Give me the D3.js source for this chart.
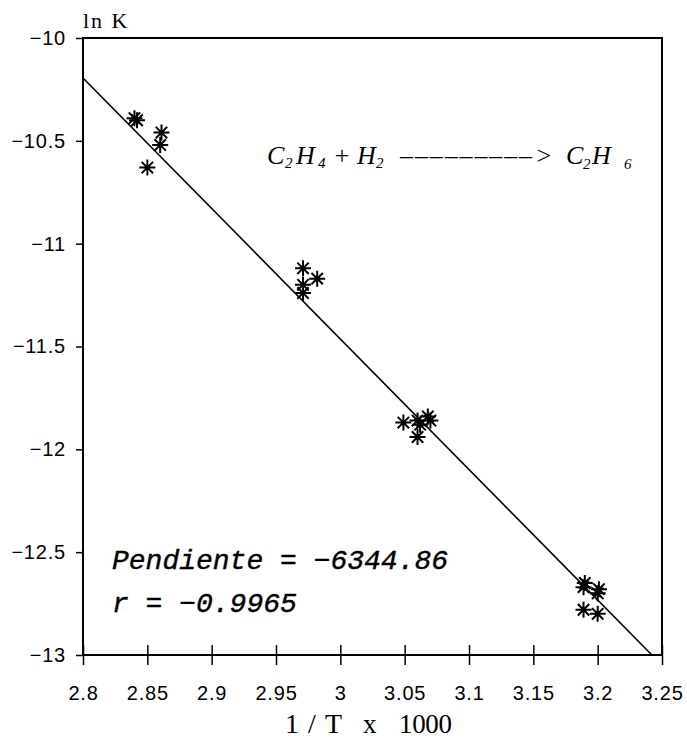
<!DOCTYPE html>
<html lang="es">
<head>
<meta charset="UTF-8">
<title>ln K vs 1/T</title>
<script src="https://d3js.org/d3.v7.min.js"></script>
<style>
  body { margin: 0; background: #fff; }
  svg { display: block; }
</style>
</head>
<body>
<script>
// data
const invT = [2.840, 2.842, 2.861, 2.860, 2.850,
              2.971, 2.982, 2.971, 2.971,
              3.049, 3.060, 3.062, 3.070, 3.068, 3.060,
              3.190, 3.189, 3.201, 3.200, 3.189, 3.200];
const lnK  = [-10.39, -10.40, -10.46, -10.52, -10.63,
              -11.12, -11.17, -11.20, -11.24,
              -11.87, -11.86, -11.88, -11.86, -11.84, -11.94,
              -12.65, -12.67, -12.68, -12.70, -12.78, -12.80];
const xTicks = [2.8, 2.85, 2.9, 2.95, 3, 3.05, 3.1, 3.15, 3.2, 3.25];
const yTicks = [-10, -10.5, -11, -11.5, -12, -12.5, -13];
const slope = -6344.86;     // per K, fitted line
const intercept = 7.571;    // ln K at 1/T = 0
const rValue = -0.9965;

const width = 687, height = 745;
const margin = {left: 83, right: 25, top: 38, bottom: 90};
const minus = s => String(s).replace("-", "\u2212");

const svg = d3.select("body").append("svg")
  .attr("width", width)
  .attr("height", height);

const x = d3.scaleLinear().domain([2.8, 3.25]).range([margin.left, width - margin.right]);
const y = d3.scaleLinear().domain([-10, -13]).range([margin.top, height - margin.bottom]);

// frame
svg.append("rect")
  .attr("x", x(2.8)).attr("y", y(-10))
  .attr("width", x(3.25) - x(2.8)).attr("height", y(-13) - y(-10))
  .attr("fill", "none").attr("stroke", "#000").attr("stroke-width", 2);

// x axis: ticks cross the line
const xAxis = svg.append("g")
  .attr("transform", `translate(0,${y(-13)})`)
  .call(d3.axisBottom(x).tickValues(xTicks).tickSize(10).tickPadding(21).tickFormat(d3.format("")));
xAxis.select(".domain").remove();
xAxis.selectAll(".tick line").attr("y1", -10).attr("stroke-width", 1.5);
xAxis.selectAll("text")
  .attr("font-family", "Liberation Sans, Arial, sans-serif")
  .attr("font-size", 20).attr("letter-spacing", 0.8).attr("fill", "#000");

// y axis
const yAxis = svg.append("g")
  .attr("transform", `translate(${x(2.8)},0)`)
  .call(d3.axisLeft(y).tickValues(yTicks).tickSize(7).tickPadding(10).tickFormat(minus));
yAxis.select(".domain").remove();
yAxis.selectAll(".tick line").attr("stroke-width", 1.5);
yAxis.selectAll("text")
  .attr("font-family", "Liberation Sans, Arial, sans-serif")
  .attr("font-size", 20).attr("letter-spacing", 0.8).attr("fill", "#000");

// axis titles
svg.append("text")
  .attr("x", x(2.8)).attr("y", 28)
  .attr("font-family", "Liberation Serif, Times New Roman, serif")
  .attr("font-size", 22).attr("letter-spacing", 2)
  .text("ln K");

const serif = "Liberation Serif, Times New Roman, serif";
const xt = svg.append("g").attr("font-family", serif).attr("font-size", 27);
xt.append("text").attr("x", 285).attr("y", 733).attr("font-size", 28)
  .attr("textLength", 57).attr("lengthAdjust", "spacing").text("1/T");
xt.append("text").attr("x", 363).attr("y", 733).text("x");
xt.append("text").attr("x", 399).attr("y", 733)
  .attr("textLength", 53).attr("lengthAdjust", "spacing").text("1000");

// fitted line, from the left edge down to ln K = -13
const xEnd = (-13 - intercept) / (slope / 1000);
const fit = [2.8, xEnd].map(t => [t, intercept + slope / 1000 * t]);
svg.append("path")
  .attr("d", d3.line().x(d => x(d[0])).y(d => y(d[1]))(fit))
  .attr("fill", "none").attr("stroke", "#000").attr("stroke-width", 1.6);

// asterisk markers
const star = "M-8,0H8M0,-8V8M-5.7,-5.7L5.7,5.7M-5.7,5.7L5.7,-5.7";
svg.append("g").selectAll("path")
  .data(invT.map((t, i) => [t, lnK[i]]))
  .join("path")
  .attr("transform", d => `translate(${x(d[0])},${y(d[1])})`)
  .attr("d", star)
  .attr("stroke", "#000").attr("stroke-width", 2).attr("fill", "none");

// reaction label, pieces placed one by one
const rxn = svg.append("g")
  .attr("font-family", serif).attr("font-style", "italic");
const big = 26, small = 15, base = 164;
[["C", 267, 0, big], ["2", 285, 4, small], ["H", 296, 0, big], ["4", 318, 4, small],
 ["+", 333, 0, big], ["H", 357, 0, big], ["2", 376, 4, small],
 [">", 535, 0, big], ["C", 566, 0, big], ["2", 583, 5, small], ["H", 592, 0, big],
 ["6", 624, 5, small]]
  .forEach(([t, px, dy, fs]) => {
    rxn.append("text").attr("x", px).attr("y", base + dy).attr("font-size", fs).text(t);
  });
rxn.append("text").attr("x", 400).attr("y", base).attr("font-size", big)
  .attr("textLength", 132).attr("lengthAdjust", "spacing")
  .text("\u2013\u2013\u2013\u2013\u2013\u2013\u2013\u2013\u2013");

// fit statistics
const stats = svg.append("g")
  .attr("font-family", "Liberation Mono, Courier New, monospace")
  .attr("font-style", "italic").attr("font-size", 28)
  .attr("stroke", "#000").attr("stroke-width", 0.4);
stats.append("text").attr("x", 112).attr("y", 569)
  .text(`Pendiente = ${minus(slope)}`);
stats.append("text").attr("x", 112).attr("y", 612)
  .text(`r = ${minus(rValue)}`);
</script>
</body>
</html>
